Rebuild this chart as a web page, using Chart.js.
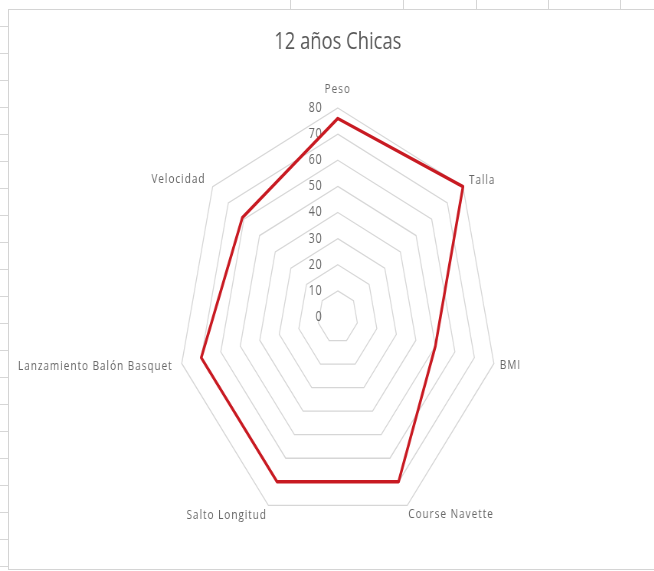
<!DOCTYPE html>
<html>
<head>
<meta charset="utf-8">
<script src="https://cdn.jsdelivr.net/npm/chart.js@4.4.1/dist/chart.umd.min.js"></script>
<style>
  html, body { margin: 0; padding: 0; background: #fff; }
  #sheet {
    position: relative; width: 654px; height: 571px; overflow: hidden; background: #fff;
    /* excel cell lines peeking out round the chart frame */
    background-image:
      repeating-linear-gradient(to bottom, transparent 0 26px, #d6d6d6 26px 27px),
      linear-gradient(to right, transparent 290px, #d6d6d6 290px 291px, transparent 291px 403px, #d6d6d6 403px 404px,
        transparent 404px 476px, #d6d6d6 476px 477px, transparent 477px 548px, #d6d6d6 548px 549px,
        transparent 549px 620px, #d6d6d6 620px 621px, transparent 621px);
    background-size: 8px 571px, 654px 9px;
    background-repeat: no-repeat;
  }
  #frame {
    position: absolute; left: 8px; top: 9px; width: 660px; height: 559px;
    border-left: 1px solid #d4d4d4; border-top: 1px solid #d4d4d4; border-bottom: 1px solid #d4d4d4;
    background: #fff;
  }
  #radar {
    position: absolute; left: 0; top: 0;
    transform: scaleX(0.766); transform-origin: 0 0;
  }
</style>
</head>
<body>
<div id="sheet">
  <div id="frame"></div>
  <canvas id="radar" width="854" height="571"></canvas>
</div>
<script>
(function () {
    "use strict";

    const categories = ["Peso", "Talla", "BMI", "Course Navette", "Salto Longitud", "Lanzamiento Balón Basquet", "Velocidad"];
    const chicas12 = [76, 80, 50, 70, 70, 70, 61];
    const tickValues = [0, 10, 20, 30, 40, 50, 60, 70, 80];
    const tickLabels = ["0", "10", "20", "30", "40", "50", "60", "70", "80"];

    const GREY = "#666666";

    // excel style tick labels (left of the vertical axis) and category labels
    const excelLabels = {
        id: "excelLabels",
        beforeDatasetsDraw(chart) {
            const scale = chart.scales.r;
            const ctx = chart.ctx;
            ctx.save();
            ctx.fillStyle = GREY;
            ctx.letterSpacing = "1px";
            ctx.font = '14px "Open Sans"';
            ctx.textAlign = "right";
            ctx.textBaseline = "middle";
            tickValues.forEach((v, i) => {
                const p = scale.getPointPositionForValue(0, v);
                ctx.fillText(tickLabels[i], scale.xCenter - 20, p.y);
            });

            const pads = [12, 10, 8, 3, 4, 12, 12];
            ctx.font = '13px "Open Sans"';
            ctx.letterSpacing = "1.3px";
            categories.forEach((text, i) => {
                const deg = i * 360 / categories.length;
                const p = scale.getPointPosition(i, scale.drawingArea + pads[i]);
                let align = "center";
                if (deg > 0 && deg < 180) align = "left";
                else if (deg > 180) align = "right";
                let base = "middle";
                if (deg === 0) base = "bottom";
                else if (deg >= 135 && deg <= 225) base = "top";
                ctx.textAlign = align;
                ctx.textBaseline = base;
                ctx.fillText(text, p.x, p.y);
            });
            ctx.restore();
        }
    };

    const ctx = document.getElementById("radar").getContext("2d");
    new Chart(ctx, {
        type: "radar",
        data: {
            labels: categories,
            datasets: [
                {
                    label: "12 años Chicas",
                    data: chicas12,
                    borderColor: "#c81a22",
                    backgroundColor: "rgba(0,0,0,0)",
                    borderWidth: 3.4,
                    borderJoinStyle: "round",
                    fill: false,
                    pointRadius: 0,
                    pointHoverRadius: 0,
                },
            ],
        },
        options: {
            responsive: false,
            devicePixelRatio: 1,
            animation: false,
            layout: {
                padding: { left: 232, right: 204, top: 0, bottom: 44 },
            },
            plugins: {
                legend: { display: false },
                tooltip: { enabled: false },
                title: {
                    display: true,
                    text: "12 años Chicas",
                    color: "#595959",
                    font: { family: "Open Sans", size: 24, weight: "normal" },
                    padding: { top: 28, bottom: 52 },
                },
            },
            scales: {
                r: {
                    min: 0,
                    max: 80,
                    ticks: { display: false, stepSize: 10 },
                    pointLabels: { display: false },
                    angleLines: { display: false },
                    grid: { color: "#d6d6d6", lineWidth: 1.3 },
                },
            },
        },
        plugins: [excelLabels],
    });
})();
</script>
</body>
</html>
